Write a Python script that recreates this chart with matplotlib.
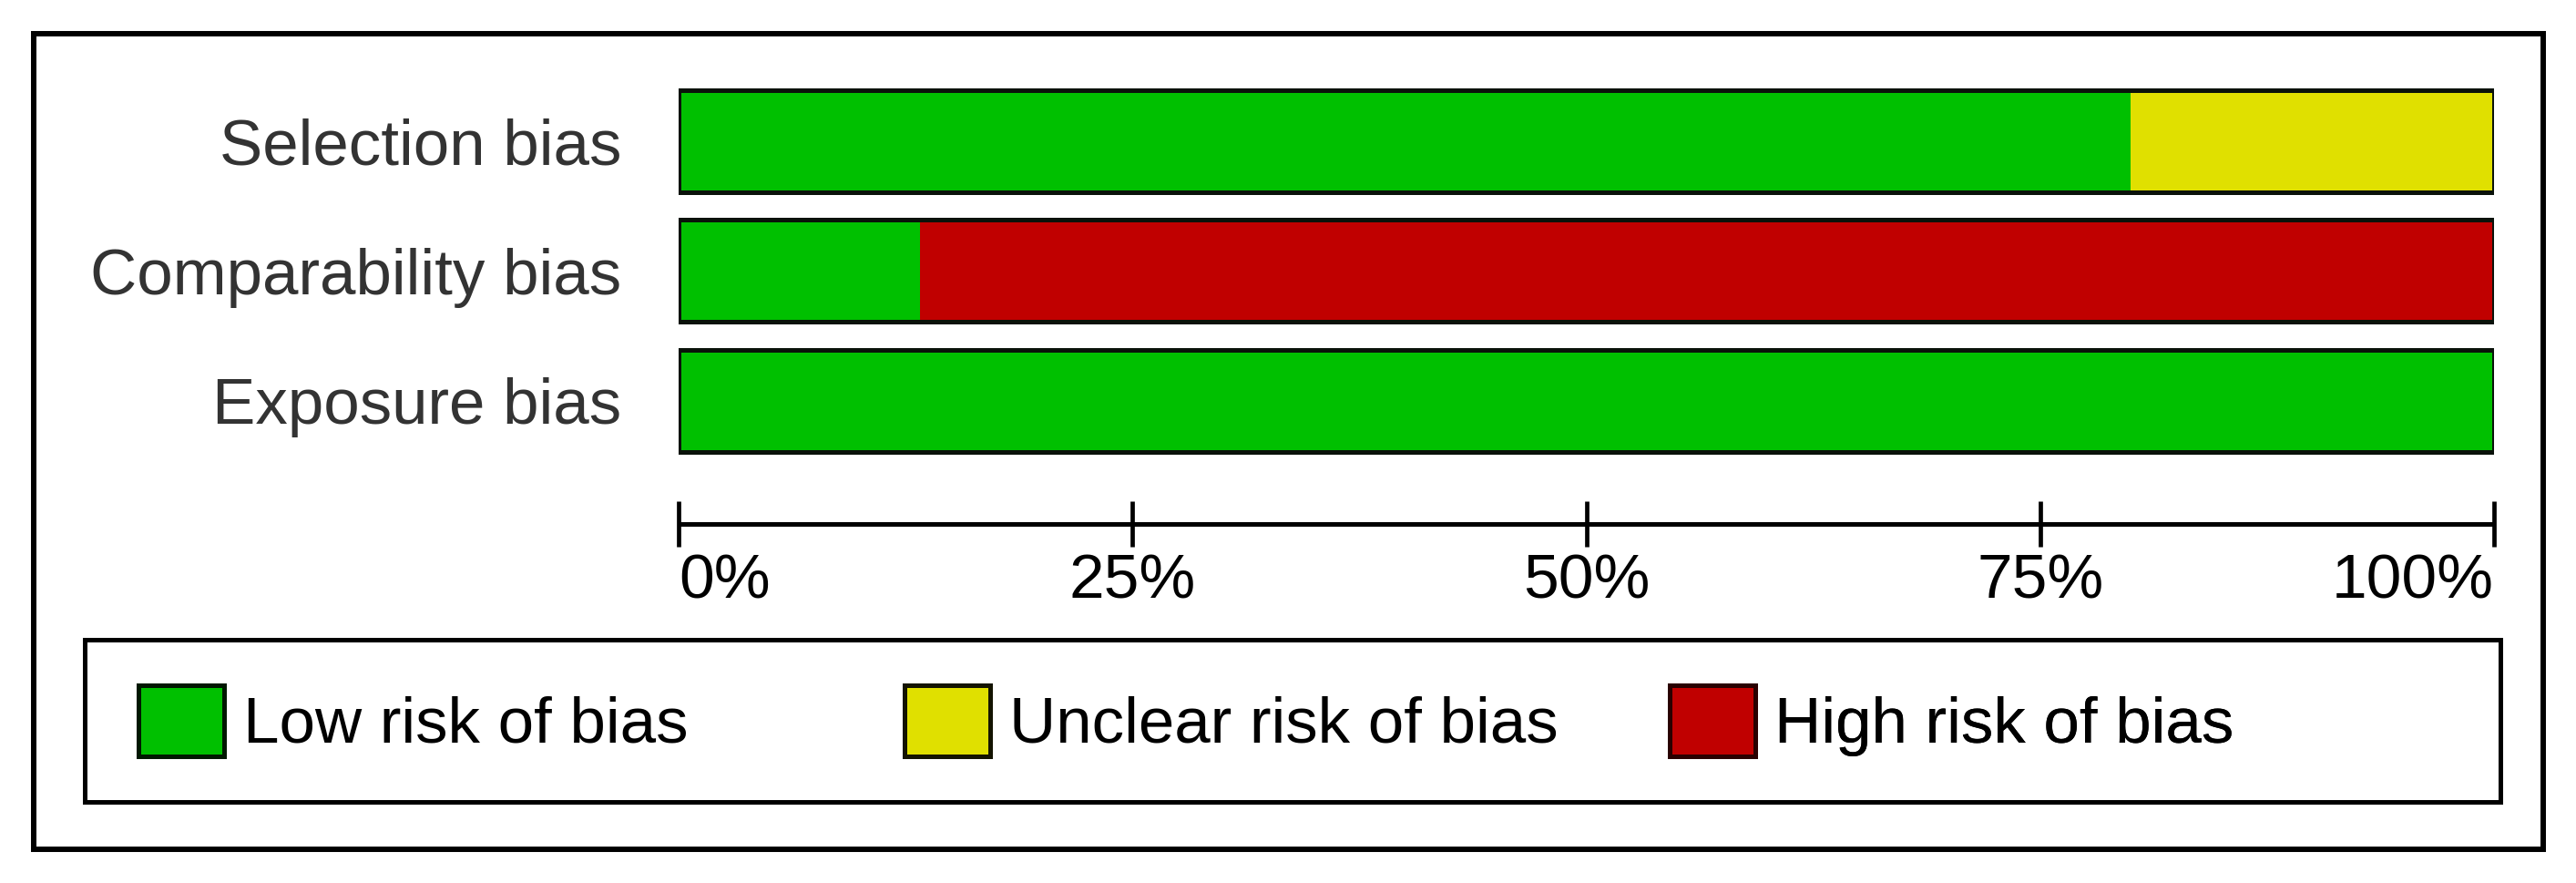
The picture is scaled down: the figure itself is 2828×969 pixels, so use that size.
import matplotlib.pyplot as plt
from matplotlib.patches import Patch, Rectangle

plt.rcParams['font.family'] = ['Liberation Sans', 'DejaVu Sans']

domains = ['Selection bias', 'Comparability bias', 'Exposure bias']
low = [80.0, 13.3, 100.0]
unclear = [20.0, 0.0, 0.0]
high = [0.0, 86.7, 0.0]
ticks = [0, 25, 50, 75, 100]
tick_labels = ['0%', '25%', '50%', '75%', '100%']
legend_labels = ['Low risk of bias', 'Unclear risk of bias', 'High risk of bias']

c_low = '#00c000'
c_unclear = '#e0e000'
c_high = '#c00000'
edge_cols = ['#001800', '#141400', '#2a0000']

W, H = 2828, 969
fig = plt.figure(figsize=(W / 100, H / 100), dpi=100)

# outer border
fig.add_artist(Rectangle((37 / W, 1 - 932 / H), (2792 - 37) / W, (932 - 37) / H,
                         transform=fig.transFigure, fill=False, lw=4.3, ec='black'))

ax = fig.add_axes([745 / W, 1 - 575 / H, (2738 - 745) / W, (575 - 76.6) / H])
y = list(range(len(domains)))
h = 0.786
ax.barh(y, low, height=h, color=c_low, lw=0)
ax.barh(y, unclear, left=low, height=h, color=c_unclear, lw=0)
left_high = [a + b for a, b in zip(low, unclear)]
ax.barh(y, high, left=left_high, height=h, color=c_high, lw=0)
totals = [a + b + c for a, b, c in zip(low, unclear, high)]
ax.barh(y, totals, height=h, fill=False, edgecolor='#0a120a', lw=3.6)

ax.set_xlim(0, 100)
ax.set_ylim(2.95, -0.55)
ax.set_yticks(y)
ax.set_yticklabels(domains, fontsize=51, color='#333333')
ax.tick_params(axis='y', length=0, pad=45)
ax.set_xticks(ticks)
ax.set_xticklabels(tick_labels, fontsize=50)
ax.tick_params(axis='x', direction='inout', length=36, width=3.4, pad=5)
xl = ax.get_xticklabels()
xl[0].set_ha('left')
xl[-1].set_ha('right')
for s in ['top', 'left', 'right']:
    ax.spines[s].set_visible(False)
ax.spines['bottom'].set_linewidth(3.6)
ax.spines['bottom'].set_capstyle('butt')

# legend box
lx0, lx1, ly0, ly1 = 93, 2745, 702, 880
lax = fig.add_axes([lx0 / W, 1 - ly1 / H, (lx1 - lx0) / W, (ly1 - ly0) / H])
lax.set_xticks([])
lax.set_yticks([])
for s in lax.spines.values():
    s.set_linewidth(3.6)
col_starts = [150, 991, 1831]
for i, (lab, c, ec) in enumerate(zip(legend_labels, [c_low, c_unclear, c_high], edge_cols)):
    leg = lax.legend([Patch(facecolor=c, edgecolor=ec, lw=3.6)], [lab],
                     loc='center left',
                     bbox_to_anchor=((col_starts[i] - lx0 + 2) / (lx1 - lx0), 0.5),
                     frameon=False, fontsize=51, handlelength=1.33, handleheight=1.33,
                     handletextpad=0.3, borderpad=0, borderaxespad=0)
    lax.add_artist(leg)

fig.savefig('out.png', dpi=100, facecolor='white')
